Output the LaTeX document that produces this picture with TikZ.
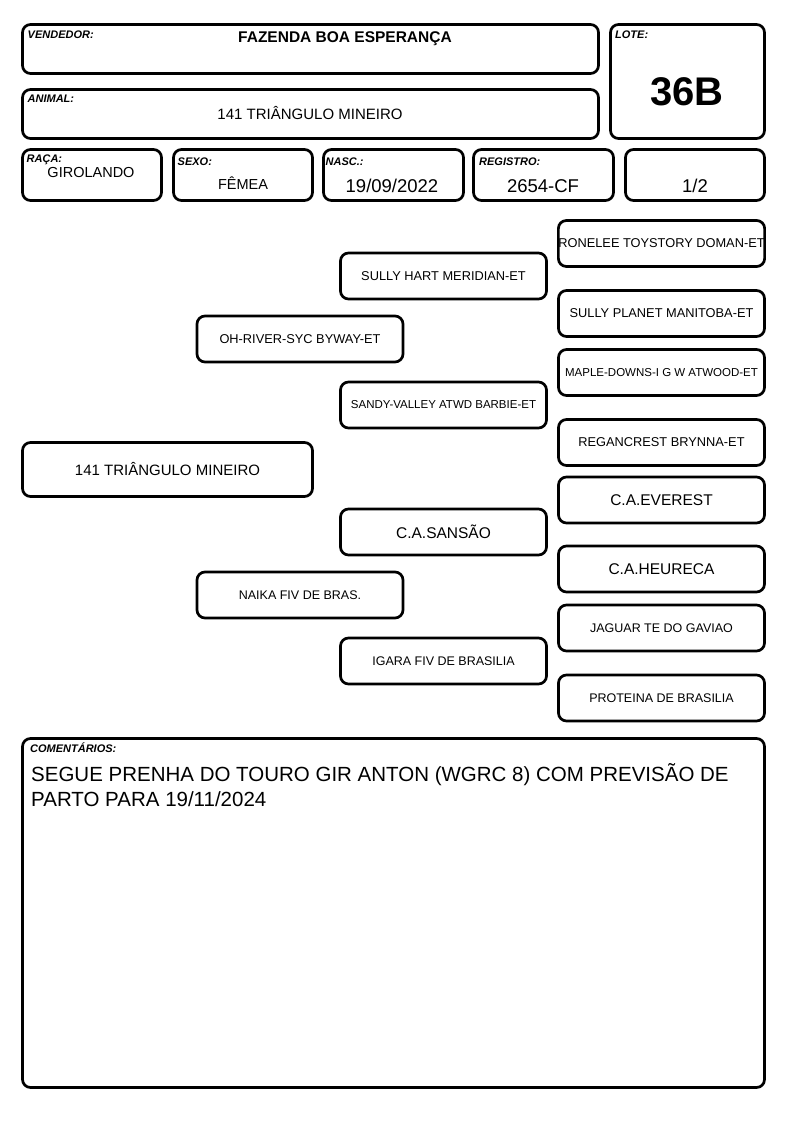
\documentclass[tikz,border=0pt]{standalone}
\usepackage{fontspec}
\setmainfont{Liberation Sans}
\newcommand{\pfs}[1]{\fontsize{#1}{#1}\selectfont}
\begin{document}
\begin{tikzpicture}[x=1pt,y=-1pt,
  frame/.style={draw, line width=2.7pt, rounded corners=8pt, inner sep=0pt},
  lbl/.style={anchor=base west, inner sep=0pt, font=\pfs{11}\bfseries\itshape},
  val/.style={anchor=base, inner sep=0pt},
  ped/.style={frame, minimum width=206pt, minimum height=46pt},
  pa/.style={ped, font=\pfs{12.8}},
  pb/.style={ped, font=\pfs{11.5}},
  pc/.style={ped, font=\pfs{15.5}},
  pd/.style={ped, font=\pfs{12.5}}
]
\useasboundingbox (0,0) rectangle (794,1123);
\fill[white] (0,0) rectangle (794,1123);

% header frames
\node[frame, minimum width=576pt, minimum height=49pt] (vend) at (310.5,49) {};
\node[frame, minimum width=576pt, minimum height=49pt] (anim) at (310.5,114) {};
\node[frame, minimum width=154pt, minimum height=114pt] (lote) at (687.5,81.5) {};
\node[frame, minimum width=139pt, minimum height=51pt] (raca) at (92,175) {};
\node[frame, minimum width=139pt, minimum height=51pt] (sexo) at (243,175) {};
\node[frame, minimum width=140pt, minimum height=51pt] (nasc) at (393.5,175) {};
\node[frame, minimum width=140pt, minimum height=51pt] (regi) at (543.5,175) {};
\node[frame, minimum width=139pt, minimum height=51pt] (frac) at (695,175) {};

% labels
\node[lbl] (lvend) at (27.5,39) {VENDEDOR:};
\node[lbl] (lanim) at (27.5,102.5) {ANIMAL:};
\node[lbl] (llote) at (615,39) {LOTE:};
\node[lbl] (lraca) at (26.5,162.5) {RAÇA:};
\node[lbl] (lsexo) at (177.5,166) {SEXO:};
\node[lbl] (lnasc) at (325.5,166) {NASC.:};
\node[lbl] (lregi) at (479,166) {REGISTRO:};

% values
\node[val, font=\pfs{15.5}\bfseries] (tvend) at (345,42.7) {FAZENDA BOA ESPERANÇA};
\node[val, font=\pfs{15}] (tanim) at (310,119.3) {141 TRIÂNGULO MINEIRO};
\node[val, font=\pfs{40}\bfseries] (tlote) at (687,105.5) {36B};
\node[val, font=\pfs{14.5}] (traca) at (91,178) {GIROLANDO};
\node[val, font=\pfs{14.5}] (tsexo) at (243,189.5) {FÊMEA};
\node[val, font=\pfs{18.5}] (tnasc) at (392,193) {19/09/2022};
\node[val, font=\pfs{18.5}] (tregi) at (543,193) {2654-CF};
\node[val, font=\pfs{18.5}] (tfrac) at (695,193) {1/2};

% pedigree
\node[frame, minimum width=290pt, minimum height=54pt, font=\pfs{15}] (subj) at (167.5,469.5) {141 TRIÂNGULO MINEIRO};

\node[pa] (sire) at (300,339) {OH-RIVER-SYC BYWAY-ET};
\node[pd] (dam) at (300,595) {NAIKA FIV DE BRAS.};

\node[pa] (ss) at (443.5,276) {SULLY HART MERIDIAN-ET};
\node[pb] (sd) at (443.5,405) {SANDY-VALLEY ATWD BARBIE-ET};
\node[pc] (ds) at (443.5,532) {C.A.SANSÃO};
\node[pd] (dd) at (443.5,661) {IGARA FIV DE BRASILIA};

\node[pa] (sss) at (661.5,243.5) {RONELEE TOYSTORY DOMAN-ET};
\node[pa] (ssd) at (661.5,313.5) {SULLY PLANET MANITOBA-ET};
\node[pb] (sds) at (661.5,372.5) {MAPLE-DOWNS-I G W ATWOOD-ET};
\node[pa] (sdd) at (661.5,442.5) {REGANCREST BRYNNA-ET};
\node[pc] (dss) at (661.5,500) {C.A.EVEREST};
\node[pc] (dsd) at (661.5,569) {C.A.HEURECA};
\node[pd] (dds) at (661.5,628) {JAGUAR TE DO GAVIAO};
\node[pd] (ddd) at (661.5,698) {PROTEINA DE BRASILIA};

% comments
\node[frame, minimum width=742pt, minimum height=349pt] (coment) at (393.5,913) {};
\node[lbl] (lcoment) at (30,752) {COMENTÁRIOS:};
\node[anchor=base west, inner sep=0pt, font=\pfs{20.5}] (tc1) at (31,781) {SEGUE PRENHA DO TOURO GIR ANTON (WGRC 8) COM PREVISÃO DE};
\node[anchor=base west, inner sep=0pt, font=\pfs{20.5}] (tc2) at (31,806) {PARTO PARA 19/11/2024};
\end{tikzpicture}
\end{document}
